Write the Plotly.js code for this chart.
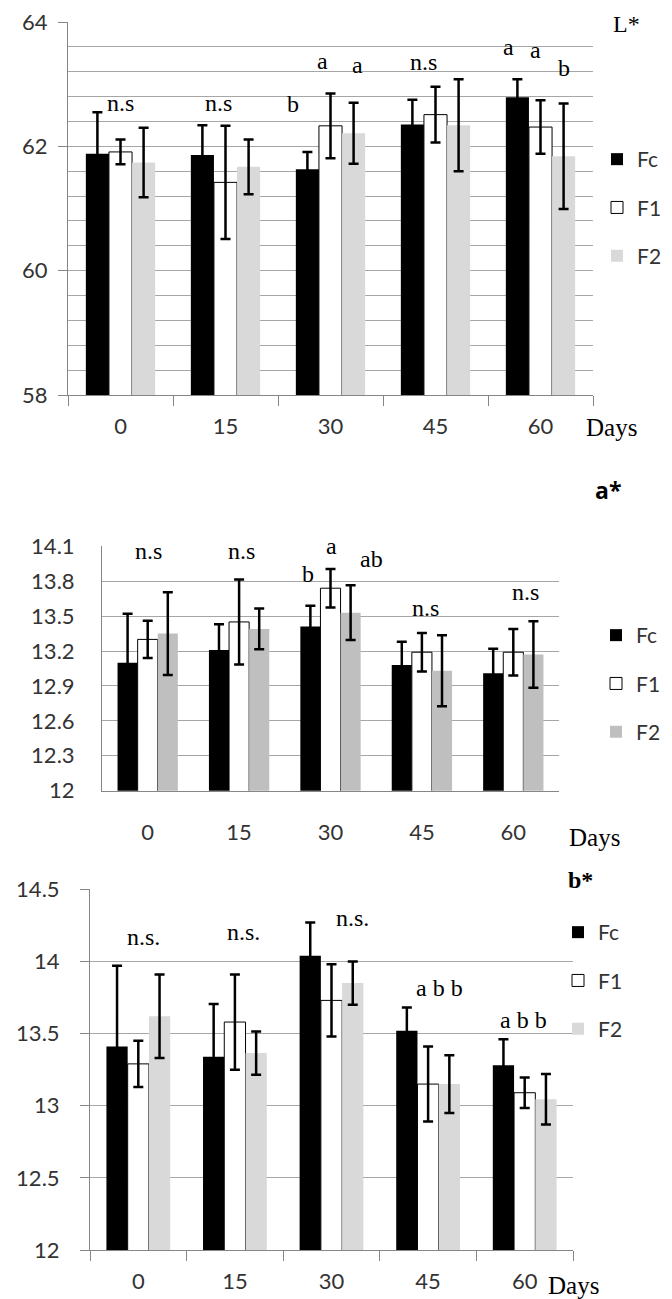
<!DOCTYPE html>
<html>
<head>
<meta charset="utf-8">
<script src="https://cdn.plot.ly/plotly-3.0.1.min.js"></script>
<style>html,body{margin:0;padding:0;background:#fff;}#chart{width:672px;height:1299px;}</style>
</head>
<body>
<div id="chart"></div>
<script>
// ---- data ----
const days = ['0', '15', '30', '45', '60'];
const seriesNames = ['Fc', 'F1', 'F2'];

// L*
const L_Fc = [61.88, 61.86, 61.63, 62.35, 62.79];
const L_Fc_err = [0.67, 0.48, 0.28, 0.40, 0.29];
const L_F1 = [61.91, 61.42, 62.33, 62.51, 62.31];
const L_F1_err = [0.20, 0.91, 0.52, 0.45, 0.43];
const L_F2 = [61.74, 61.67, 62.21, 62.34, 61.84];
const L_F2_err = [0.56, 0.44, 0.49, 0.74, 0.85];

// a*
const a_Fc = [13.10, 13.21, 13.41, 13.08, 13.01];
const a_Fc_err = [0.42, 0.22, 0.18, 0.20, 0.21];
const a_F1 = [13.30, 13.45, 13.74, 13.19, 13.19];
const a_F1_err = [0.16, 0.365, 0.165, 0.165, 0.20];
const a_F2 = [13.35, 13.39, 13.53, 13.03, 13.17];
const a_F2_err = [0.355, 0.175, 0.235, 0.305, 0.285];

// b*
const b_Fc = [13.41, 13.34, 14.04, 13.52, 13.28];
const b_Fc_err = [0.56, 0.365, 0.23, 0.16, 0.18];
const b_F1 = [13.29, 13.58, 13.73, 13.15, 13.09];
const b_F1_err = [0.16, 0.33, 0.25, 0.26, 0.105];
const b_F2 = [13.62, 13.365, 13.85, 13.15, 13.045];
const b_F2_err = [0.29, 0.15, 0.15, 0.20, 0.175];

// tick values
const L_ticks = [58, 60, 62, 64];
const a_ticks = [12, 12.3, 12.6, 12.9, 13.2, 13.5, 13.8, 14.1];
const b_ticks = [12, 12.5, 13, 13.5, 14, 14.5];

// significance labels
const L_sig = ['n.s', 'n.s', 'b', 'a', 'a', 'n.s', 'a', 'a', 'b'];
const a_sig = ['n.s', 'n.s', 'b', 'a', 'ab', 'n.s', 'n.s'];
const b_sig = ['n.s.', 'n.s.', 'n.s.', 'a b b', 'a b b'];

// ---- layout helpers ----
const W = 672, H = 1299;
const px = x => x / W;
const py = y => 1 - y / H;

const SANS = 'Lato, "Open Sans", sans-serif';
const SERIF = '"Liberation Serif", "DejaVu Serif", serif';
const GRID = '#a6a6a6';
const AXIS = '#868686';
const TXT = '#333333';

function bars(vals, errs, name, color, xa, ya, leg, lineColor, lineWidth) {
  return {
    type: 'bar', x: days, y: vals, name: name,
    xaxis: xa, yaxis: ya, legend: leg, legendgroup: leg + name,
    marker: {color: color, line: {color: lineColor || color, width: lineWidth || 0}},
    error_y: {type: 'data', array: errs, visible: true, color: '#000', thickness: 2.5, width: 5},
    hoverinfo: 'skip'
  };
}

const data = [
  bars(L_Fc, L_Fc_err, 'Fc', '#000000', 'x', 'y', 'legend'),
  bars(L_F1, L_F1_err, 'F1', '#ffffff', 'x', 'y', 'legend', '#000000', 1),
  bars(L_F2, L_F2_err, 'F2', '#d9d9d9', 'x', 'y', 'legend'),
  bars(a_Fc, a_Fc_err, 'Fc', '#000000', 'x2', 'y2', 'legend2'),
  bars(a_F1, a_F1_err, 'F1', '#ffffff', 'x2', 'y2', 'legend2', '#000000', 1),
  bars(a_F2, a_F2_err, 'F2', '#bfbfbf', 'x2', 'y2', 'legend2'),
  bars(b_Fc, b_Fc_err, 'Fc', '#000000', 'x3', 'y3', 'legend3'),
  bars(b_F1, b_F1_err, 'F1', '#ffffff', 'x3', 'y3', 'legend3', '#000000', 1),
  bars(b_F2, b_F2_err, 'F2', '#d9d9d9', 'x3', 'y3', 'legend3')
];

function xax(x0, x1, anchor, ticks, standoff) {
  return {
    domain: [px(x0), px(x1)], anchor: anchor, type: 'category',
    showline: true, linecolor: AXIS, linewidth: 1,
    ticks: ticks ? 'outside' : '', tickson: 'boundaries', ticklen: 10, tickcolor: AXIS, tickwidth: 1,
    tickfont: {family: SANS, size: 22, color: TXT},
    ticklabelstandoff: standoff, showgrid: false, fixedrange: true
  };
}
function yax(y0, y1, anchor, range, tickvals, ticks, standoff, minor) {
  const o = {
    domain: [py(y1), py(y0)], anchor: anchor, range: range,
    tickmode: 'array', tickvals: tickvals,
    showline: true, linecolor: AXIS, linewidth: 1, zeroline: false,
    showgrid: true, gridcolor: GRID, gridwidth: 1,
    ticks: ticks ? 'outside' : '', ticklen: 9, tickcolor: AXIS,
    tickfont: {family: SANS, size: 22, color: TXT},
    ticklabelstandoff: standoff, fixedrange: true
  };
  if (minor) o.minor = minor;
  return o;
}

function legendAt(x, y) {
  return {
    x: px(x), y: py(y), xanchor: 'left', yanchor: 'top',
    font: {family: SANS, size: 21, color: TXT},
    tracegroupgap: 18, traceorder: 'grouped', bgcolor: 'rgba(0,0,0,0)', borderwidth: 0
  };
}

function ann(text, x, y, font) {
  return {text: text, x: px(x), y: py(y), xref: 'paper', yref: 'paper',
    xanchor: 'center', yanchor: 'middle', showarrow: false, font: font};
}
const sigFont = {family: SERIF, size: 24, color: '#000'};

const L_pos = [[120,103],[218,103],[293,104],[322,61],[357,65],[423,62],[508,47],[535,50],[564,68]];
const a_pos = [[148,551],[241,551],[308,574],[331,546],[371,559],[425,608],[525,592]];
const b_pos = [[143,937],[243,932],[352,918],[439,988],[523,1020]];

const annotations = [];
L_sig.forEach((t, i) => annotations.push(ann(t, L_pos[i][0], L_pos[i][1], sigFont)));
a_sig.forEach((t, i) => annotations.push(ann(t, a_pos[i][0], a_pos[i][1], sigFont)));
b_sig.forEach((t, i) => annotations.push(ann(t, b_pos[i][0], b_pos[i][1], sigFont)));
annotations.push(ann('L*', 626, 24, {family: SERIF, size: 24, color: '#000'}));
annotations.push(ann('<b>a*</b>', 608, 490, {family: '"Open Sans", sans-serif', size: 23, color: '#000'}));
annotations.push(ann('<b>b*</b>', 580, 880, {family: SERIF, size: 24, color: '#000'}));
annotations.push(ann('Days', 611, 428, {family: SERIF, size: 25, color: '#000'}));
annotations.push(ann('Days', 594, 837, {family: SERIF, size: 25, color: '#000'}));
annotations.push(ann('Days', 573, 1285, {family: SERIF, size: 25, color: '#000'}));

const layout = {
  width: W, height: H,
  margin: {l: 0, r: 0, t: 0, b: 0},
  paper_bgcolor: '#fff', plot_bgcolor: '#fff',
  barmode: 'group', bargap: 0.34, bargroupgap: 0,
  showlegend: true,
  xaxis: xax(68, 593, 'y', true, 12),
  yaxis: yax(22, 395, 'x', [58, 64], L_ticks, true, 6, {dtick: 0.4, tick0: 58, showgrid: true, gridcolor: GRID, gridwidth: 1, ticks: ''}),
  xaxis2: xax(102, 559, 'y2', false, 22),
  yaxis2: yax(546.3, 790.7, 'x2', [12, 14.1], a_ticks, false, 22),
  xaxis3: xax(90, 573, 'y3', true, 12),
  yaxis3: yax(889.3, 1250, 'x3', [12, 14.5], b_ticks, true, 16),
  legend: legendAt(597, 139),
  legend2: legendAt(596, 615),
  legend3: legendAt(558, 912),
  annotations: annotations
};

Plotly.newPlot('chart', data, layout, {staticPlot: true, displayModeBar: false});
</script>
</body>
</html>
